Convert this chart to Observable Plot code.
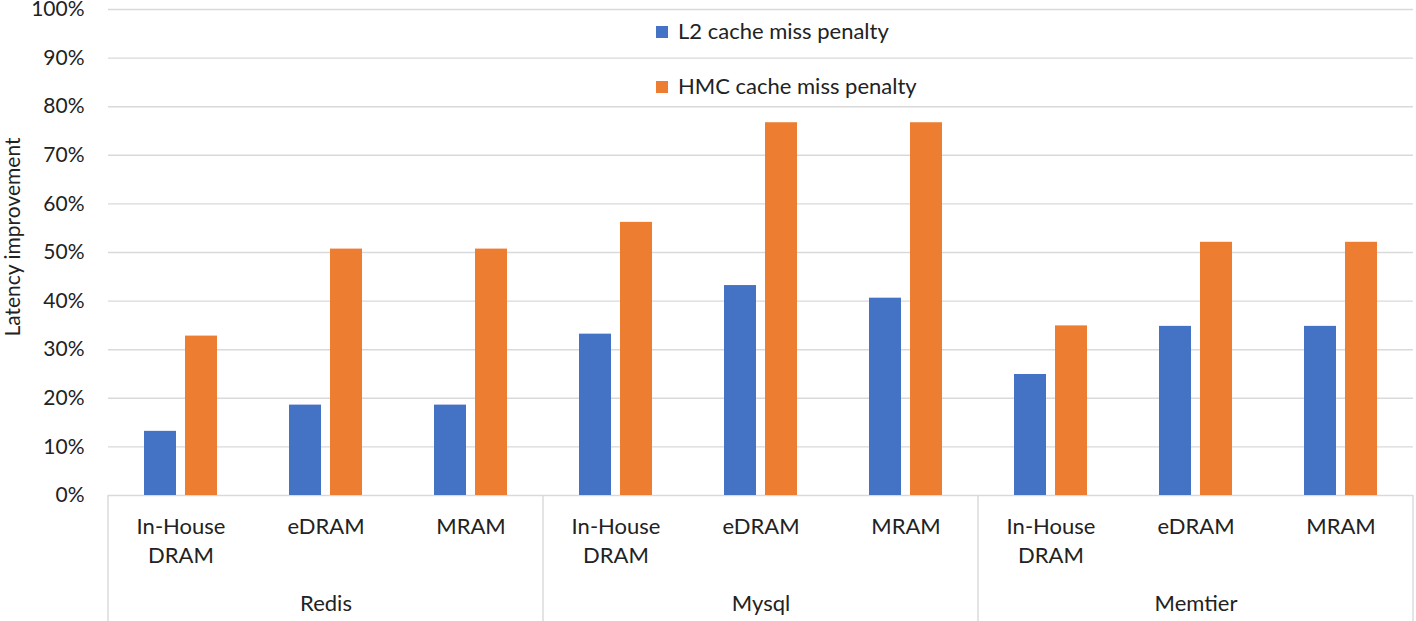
<!DOCTYPE html>
<html>
<head>
<meta charset="utf-8">
<script src="https://cdn.jsdelivr.net/npm/d3@7"></script>
<script src="https://cdn.jsdelivr.net/npm/@observablehq/plot@0.6"></script>
<style>
  html, body { margin: 0; padding: 0; background: white; }
  #wrap { position: relative; width: 1416px; height: 621px; font-family: Lato, "Open Sans", sans-serif; color: #222; }
  #legend { position: absolute; left: 656px; top: 0; }
  .item { position: absolute; white-space: nowrap; font-size: 22px; line-height: 1; }
  .sw { display: inline-block; width: 12px; height: 12px; margin-right: 10px; vertical-align: 1px; }
  #ylabel { position: absolute; left: 11px; top: 237px; transform: translate(-50%, -50%) rotate(-90deg); font-size: 21px; white-space: nowrap; }
</style>
</head>
<body>
<div id="wrap"></div>
<script>
const groups = ["Redis", "Mysql", "Memtier"];
const subs = ["In-House\nDRAM", "eDRAM", "MRAM"];
const series = ["L2 cache miss penalty", "HMC cache miss penalty"];
const l2Values = [0.132, 0.186, 0.186, 0.332, 0.432, 0.406, 0.249, 0.348, 0.348];
const hmcValues = [0.328, 0.507, 0.507, 0.562, 0.767, 0.767, 0.349, 0.521, 0.521];
const yTicks = [0, 0.1, 0.2, 0.3, 0.4, 0.5, 0.6, 0.7, 0.8, 0.9, 1.0];
const colors = ["#4472C4", "#ED7D31"];
const yLabel = "Latency improvement";

const slots = groups.flatMap(g => subs.map(s => g + "|" + s));
const data = slots.flatMap((slot, i) => [
  {slot, series: series[0], value: l2Values[i]},
  {slot, series: series[1], value: hmcValues[i]}
]);

const plot = Plot.plot({
  width: 1416,
  height: 621,
  marginLeft: 107,
  marginRight: 3,
  marginTop: 9,
  marginBottom: 126,
  style: {fontFamily: "Lato, 'Open Sans', sans-serif", fontSize: "21px", color: "#222", background: "white", overflow: "visible"},
  fx: {domain: slots, padding: 0, label: null},
  x: {domain: series, paddingInner: 0.217, paddingOuter: 0.857, axis: null},
  y: {domain: [0, 1], axis: null},
  color: {domain: series, range: colors},
  marks: [
    Plot.ruleY(yTicks, {stroke: "#d9d9d9", strokeWidth: 1.4}),
    Plot.barY(data, {fx: "slot", x: "series", y: "value", fill: "series"}),
    Plot.axisY(yTicks, {tickFormat: d3.format(".0%"), tickSize: 0, tickPadding: 24, label: null, fontSize: 21}),
    Plot.axisFx({anchor: "bottom", tickFormat: d => d.split("|")[1], tickSize: 0, tickPadding: 18, label: null, lineHeight: 1.32, fontSize: 22}),
    Plot.axisFx({anchor: "bottom", tickFormat: d => d.split("|")[1] === subs[1] ? d.split("|")[0] : "", tickSize: 0, tickPadding: 100, label: null, fontSize: 22})
  ]
});

const wrap = document.getElementById("wrap");
wrap.appendChild(plot);

// group separators of the multi-level category axis, placed through the fx scale
const fx = plot.scale("fx");
const y = plot.scale("y");
const bounds = [0, 3, 6].map(i => fx.apply(slots[i])).concat([fx.apply(slots[slots.length - 1]) + fx.bandwidth]);
const svg = d3.select(plot);
svg.append("g")
  .attr("stroke", "#d9d9d9")
  .attr("stroke-width", 1.4)
  .selectAll("line")
  .data(bounds)
  .join("line")
  .attr("x1", d => d).attr("x2", d => d)
  .attr("y1", y.apply(0)).attr("y2", 621);

// legend
const legend = document.createElement("div");
legend.id = "legend";
const legendTops = [20, 75];
series.forEach((s, i) => {
  const item = document.createElement("div");
  item.className = "item";
  item.style.top = legendTops[i] + "px";
  item.innerHTML = `<span class="sw" style="background:${colors[i]}"></span>${s}`;
  legend.appendChild(item);
});
wrap.appendChild(legend);

const yl = document.createElement("div");
yl.id = "ylabel";
yl.textContent = yLabel;
wrap.appendChild(yl);
</script>
</body>
</html>
